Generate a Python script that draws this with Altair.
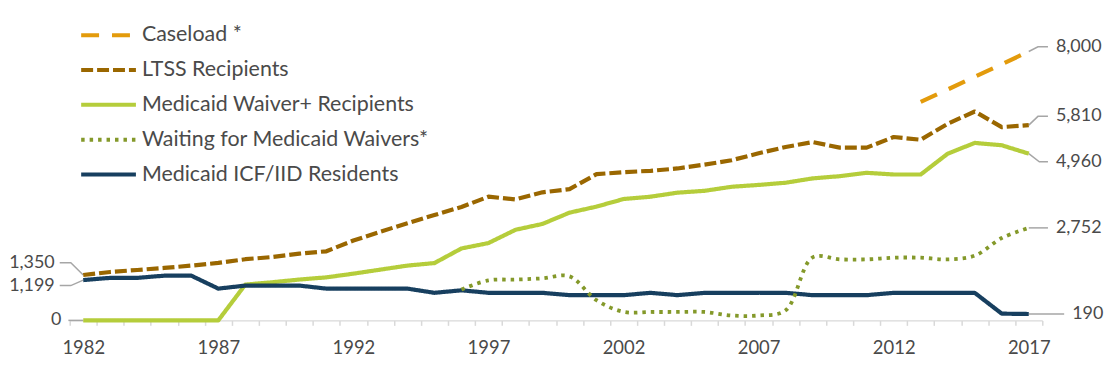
import altair as alt
import pandas as pd

# ---------------- data ----------------
years = list(range(1982, 2018))

names = ["Caseload *", "LTSS Recipients", "Medicaid Waiver+ Recipients",
         "Waiting for Medicaid Waivers*", "Medicaid ICF/IID Residents"]
colors = ["#E39B0C", "#9A6700", "#B5CD3B", "#84992A", "#173F5F"]

caseload_years = [2013, 2014, 2015, 2016, 2017]
caseload = [6500, 6870, 7250, 7620, 8000]

ltss = [1350, 1440, 1500, 1560, 1630, 1710, 1820, 1885, 1985, 2055,
        2375, 2640, 2890, 3135, 3375, 3680, 3600, 3810, 3905, 4350,
        4410, 4450, 4520, 4635, 4765, 4970, 5160, 5305, 5140, 5140,
        5455, 5375, 5850, 6215, 5750, 5810]

waiver = [0, 0, 0, 0, 0, 0, 1065, 1135, 1215, 1280,
          1390, 1510, 1630, 1705, 2140, 2300, 2695, 2870, 3205, 3385,
          3610, 3680, 3800, 3855, 3975, 4030, 4095, 4225, 4290, 4390,
          4340, 4340, 4960, 5280, 5210, 4960]

icf = [1199, 1265, 1265, 1330, 1330, 945, 1035, 1035, 1035, 945,
       945, 945, 945, 820, 895, 820, 820, 820, 750, 750,
       750, 820, 750, 820, 820, 820, 820, 750, 750, 750,
       820, 820, 820, 820, 200, 190]

waiting_years = list(range(1996, 2018))
waiting = [920, 1190, 1215, 1250, 1310, 600, 255, 250, 250, 250,
           145, 145, 300, 1875, 1815, 1815, 1865, 1865, 1815, 1925,
           2450, 2752]

left_labels = ["1,350", "1,199", "0"]
right_labels = ["8,000", "5,810", "4,960", "2,752", "190"]

# ---------------- tables ----------------
rows = []
for nm, yrs, vals in [(names[0], caseload_years, caseload),
                      (names[1], years, ltss),
                      (names[2], years, waiver),
                      (names[4], years, icf)]:
    for yr, v in zip(yrs, vals):
        rows.append({"series": nm, "year": yr, "value": v})
df_main = pd.DataFrame(rows)
df_wait = pd.DataFrame({"series": names[3], "year": waiting_years, "value": waiting})

# leader lines for the data labels (label, polyline from the point to the label)
leader_geom = [
    (left_labels[0], [(1982, ltss[0]), (1981.54, 1716), (1981.13, 1716)], "L"),
    (left_labels[1], [(1982, icf[0]), (1981.54, 1036), (1981.13, 1036)], "L"),
    (left_labels[2], [(1982, waiver[0]), (1981.45, 0)], "L0"),
    (right_labels[0], [(2017, caseload[-1]), (2017.34, 8140), (2017.71, 8140)], "R"),
    (right_labels[1], [(2017, ltss[-1]), (2017.34, 6070), (2017.71, 6070)], "R"),
    (right_labels[2], [(2017, waiver[-1]), (2017.39, 4720), (2017.71, 4720)], "R"),
    (right_labels[3], [(2017, waiting[-1]), (2017.71, 2752)], "R"),
    (right_labels[4], [(2017, icf[-1]), (2018.31, 190)], "R190"),
]
lead_rows, text_rows = [], []
for lab, pts, side in leader_geom:
    for i, (x, y) in enumerate(pts):
        lead_rows.append({"id": lab, "ord": i, "year": x, "value": y})
    text_rows.append({"label": lab, "year": pts[-1][0], "value": pts[-1][1], "side": side})
df_lead = pd.DataFrame(lead_rows)
df_text = pd.DataFrame(text_rows)

# ---------------- styling ----------------
FONT = "Lato"
TXT = "#4A4A4A"
GRID = "#D9D9D9"
NUM_SIZE = 18

tick_vals = [y + 0.5 for y in range(1981, 2018)]
label_vals = list(range(1982, 2018, 5))
axis_vals = sorted(tick_vals + label_vals)

x_axis = alt.Axis(
    values=axis_vals,
    labelExpr="datum.value % 1 == 0 ? format(datum.value, 'd') : ''",
    tickOpacity={"condition": {"test": "datum.value % 1 != 0", "value": 1}, "value": 0},
    title=None, grid=False,
    domainColor=GRID, domainWidth=1.5,
    tickColor=GRID, tickWidth=1.5, tickSize=5,
    labelFont=FONT, labelFontSize=NUM_SIZE + 0.5, labelColor=TXT,
    labelPadding=13, labelOverlap=False, labelFlush=False,
)

X = alt.X("year:Q", scale=alt.Scale(domain=[1981.5, 2017.5], nice=False, zero=False), axis=x_axis)
Y = alt.Y("value:Q", scale=alt.Scale(domain=[0, 8500], nice=False, zero=False), axis=None)

legend = alt.Legend(
    title=None, orient="none", legendX=9.5, legendY=-17,
    symbolType="stroke", symbolSize=3025, symbolStrokeWidth=4,
    clipHeight=35, rowPadding=0, padding=0,
    labelFont=FONT, labelFontSize=21.5, labelColor=TXT,
    labelOffset=4, labelLimit=500,
)

color = alt.Color("series:N", scale=alt.Scale(domain=names, range=colors), legend=legend)
dash = alt.StrokeDash("series:N",
                      scale=alt.Scale(domain=names,
                                      range=[[18, 13], [12, 4], [1, 0], [3.5, 5], [1, 0]]),
                      legend=legend)

leaders = alt.Chart(df_lead).mark_line(color="#A6A6A6", strokeWidth=1.5).encode(
    x=X, y=Y, detail="id:N", order="ord:Q")

lines = alt.Chart(df_main).mark_line(strokeWidth=4.2, strokeJoin="round").encode(
    x=X, y=Y, color=color, strokeDash=dash, order="year:Q")

wait_line = alt.Chart(df_wait).mark_line(strokeWidth=3.8, interpolate="catmull-rom").encode(
    x=X, y=Y, color=color, strokeDash=dash, order="year:Q")

txt_left = alt.Chart(df_text).transform_filter("datum.side == 'L'").mark_text(
    align="right", baseline="middle", dx=-5, font=FONT, fontSize=NUM_SIZE, color=TXT
).encode(x=X, y=Y, text="label:N")
txt_zero = alt.Chart(df_text).transform_filter("datum.side == 'L0'").mark_text(
    align="right", baseline="middle", dx=-7, font=FONT, fontSize=NUM_SIZE, color=TXT
).encode(x=X, y=Y, text="label:N")
txt_right = alt.Chart(df_text).transform_filter("datum.side == 'R'").mark_text(
    align="left", baseline="middle", dx=8, font=FONT, fontSize=NUM_SIZE, color=TXT
).encode(x=X, y=Y, text="label:N")
txt_190 = alt.Chart(df_text).transform_filter("datum.side == 'R190'").mark_text(
    align="left", baseline="middle", dx=8, font=FONT, fontSize=NUM_SIZE, color=TXT
).encode(x=X, y=Y, text="label:N")

chart = alt.layer(leaders, lines, wait_line, txt_left, txt_zero, txt_right, txt_190).properties(
    width=977, height=287,
    autosize=alt.AutoSizeParams(type="none"),
    padding={"left": 62, "top": 26, "right": 62, "bottom": 40},
    background="white",
).configure_view(stroke=None)

chart.save("out.html", embed_options={"renderer": "svg", "actions": False})
